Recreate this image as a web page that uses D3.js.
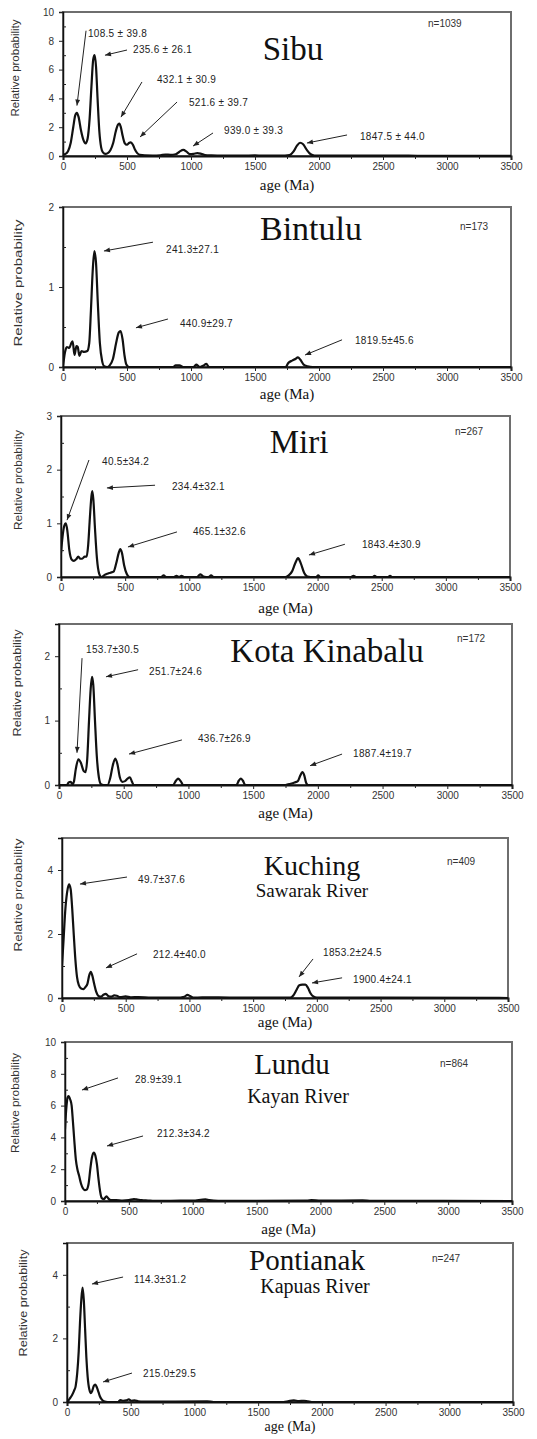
<!DOCTYPE html>
<html>
<head>
<meta charset="utf-8">
<script src="https://cdn.jsdelivr.net/npm/d3@7"></script>
<style>
body { margin: 0; background: #fff; }
svg text { font-family: "Liberation Sans", Arial, sans-serif; }
svg text.title, svg text.agelab { font-family: "Liberation Serif", "Times New Roman", serif; fill: #111; }
.tick text { fill: #333; font-size: 10px; }
.peak { font-size: 10px; fill: #222; letter-spacing: 0.3px; }
</style>
</head>
<body>
<div class="chart"></div>
<script>
var width = 537, height = 1439;

var ageTicks = d3.range(0, 3501, 500);
var ageMinor = d3.range(250, 3500, 500);

var names = ["Sibu", "Bintulu", "Miri", "Kota Kinabalu", "Kuching", "Lundu", "Pontianak"];
var rivers = [null, null, null, null, "Sawarak River", "Kayan River", "Kapuas River"];
var counts = ["n=1039", "n=173", "n=267", "n=172", "n=409", "n=864", "n=247"];
var yMax = [10, 2, 3, 2.5, 5, 10, 5];
var yStep = [2, 1, 1, 1, 2, 2, 2];

// probability curves, [age (Ma), relative probability]
var sibuCurve = [[0,0.1],[20,0.15],[40,0.35],[60,0.9],[80,2.0],[95,2.8],[108,3.0],[122,2.7],[140,1.8],[160,1.1],[177,0.88],[192,1.2],[208,2.6],[222,4.8],[236,6.7],[247,7.0],[258,6.2],[270,4.0],[284,1.7],[298,0.6],[312,0.25],[330,0.15],[350,0.2],[370,0.4],[392,0.9],[412,1.7],[428,2.15],[440,2.25],[452,2.0],[466,1.4],[482,0.9],[500,0.78],[515,0.9],[530,0.95],[545,0.8],[562,0.45],[580,0.2],[600,0.08],[640,0.04],[700,0.03],[760,0.05],[800,0.1],[840,0.08],[880,0.12],[910,0.3],[940,0.42],[965,0.3],[990,0.13],[1020,0.15],[1050,0.2],[1080,0.15],[1110,0.07],[1160,0.04],[1250,0.02],[1400,0.02],[1500,0.04],[1560,0.02],[1700,0.02],[1770,0.06],[1800,0.3],[1828,0.72],[1852,0.92],[1876,0.82],[1905,0.42],[1935,0.12],[1965,0.03],[2100,0.02],[2300,0.02],[2500,0.03],[2700,0.02],[3000,0.01],[3500,0.01]];
var bintuluCurve = [[0,0],[15,0.18],[30,0.25],[50,0.24],[65,0.3],[75,0.32],[90,0.15],[105,0.26],[115,0.25],[128,0.14],[145,0.2],[165,0.19],[190,0.2],[205,0.3],[218,0.7],[232,1.2],[245,1.45],[258,1.3],[272,0.8],[288,0.3],[305,0.08],[322,0.01],[345,0],[365,0.02],[390,0.1],[415,0.3],[435,0.43],[450,0.45],[465,0.35],[480,0.15],[495,0.03],[515,0],[860,0],[880,0.02],[910,0.02],[940,0],[1020,0],[1040,0.03],[1070,0],[1100,0.02],[1120,0.04],[1140,0],[1740,0],[1760,0.05],[1790,0.08],[1815,0.1],[1835,0.12],[1855,0.09],[1880,0.03],[1910,0.01],[1950,0],[3500,0]];
var miriCurve = [[0,0.45],[12,0.75],[25,0.95],[38,1.0],[50,0.85],[65,0.5],[82,0.33],[100,0.3],[118,0.33],[135,0.38],[150,0.34],[165,0.34],[185,0.38],[200,0.38],[212,0.6],[225,1.1],[237,1.5],[244,1.6],[252,1.45],[265,0.9],[280,0.35],[298,0.06],[317,0],[340,0.04],[360,0.06],[385,0.08],[410,0.1],[430,0.25],[450,0.45],[462,0.52],[475,0.45],[492,0.22],[512,0.06],[535,0],[780,0],[800,0.03],[820,0],[880,0],[900,0.02],[920,0],[940,0.02],[960,0],[1060,0],[1085,0.05],[1110,0.01],[1150,0],[1170,0.03],[1190,0],[1750,0],[1775,0.03],[1800,0.1],[1825,0.25],[1848,0.35],[1870,0.25],[1895,0.08],[1920,0.01],[1945,0],[1990,0],[2005,0.03],[2020,0],[2260,0],[2280,0.02],[2300,0],[2430,0],[2445,0.02],[2460,0],[2550,0],[2565,0.02],[2580,0],[3500,0]];
var kotaCurve = [[0,0],[60,0],[75,0.04],[90,0.05],[105,0.01],[115,0.05],[130,0.25],[150,0.4],[168,0.35],[190,0.22],[205,0.2],[218,0.4],[232,1.0],[245,1.5],[255,1.68],[265,1.55],[278,1.0],[292,0.45],[308,0.12],[325,0.01],[345,0],[375,0],[395,0.1],[415,0.3],[435,0.41],[452,0.32],[470,0.12],[490,0.05],[510,0.06],[530,0.1],[548,0.12],[562,0.06],[578,0],[880,0],[905,0.07],[920,0.1],[940,0.06],[960,0],[1370,0],[1390,0.07],[1405,0.1],[1420,0.07],[1440,0],[1750,0],[1790,0.02],[1820,0.04],[1845,0.06],[1865,0.15],[1880,0.2],[1895,0.15],[1910,0.03],[1925,0],[3500,0]];
var kuchingCurve = [[0,1.0],[12,1.8],[25,2.7],[40,3.3],[55,3.55],[68,3.4],[80,2.8],[92,2.0],[105,1.2],[118,0.65],[132,0.4],[150,0.3],[170,0.28],[185,0.35],[200,0.45],[213,0.7],[226,0.82],[238,0.7],[252,0.45],[268,0.2],[285,0.07],[305,0.04],[325,0.1],[345,0.13],[362,0.06],[385,0.04],[410,0.08],[430,0.07],[455,0.03],[500,0.05],[540,0.02],[600,0.03],[700,0.01],[900,0.01],[960,0.04],[985,0.1],[1005,0.06],[1030,0.01],[1100,0.02],[1230,0.02],[1400,0.01],[1600,0.01],[1790,0.01],[1815,0.08],[1840,0.25],[1862,0.4],[1885,0.42],[1910,0.42],[1930,0.32],[1950,0.15],[1972,0.05],[2000,0.01],[2500,0.01],[3500,0]];
var lunduCurve = [[0,4.5],[10,5.8],[20,6.5],[28,6.6],[40,6.4],[52,6.0],[62,5.0],[72,3.9],[85,2.6],[97,2.0],[110,1.6],[125,1.1],[140,0.8],[155,0.68],[170,0.72],[185,1.1],[198,2.0],[210,2.7],[225,3.05],[238,2.85],[250,2.3],[262,1.4],[275,0.6],[288,0.18],[305,0.12],[325,0.3],[340,0.15],[360,0.05],[400,0.06],[450,0.03],[500,0.05],[540,0.12],[560,0.1],[600,0.05],[650,0.03],[700,0.01],[900,0.02],[1000,0.03],[1100,0.1],[1130,0.05],[1200,0.01],[1500,0.01],[1900,0.03],[1930,0.05],[2000,0.02],[2330,0.04],[2400,0.01],[3500,0]];
var pontianakCurve = [[0,0],[20,0.1],[40,0.22],[55,0.35],[68,0.5],[80,0.9],[92,1.6],[102,2.5],[112,3.2],[122,3.6],[132,3.2],[142,2.3],[152,1.4],[162,0.8],[175,0.4],[188,0.28],[198,0.35],[210,0.5],[222,0.55],[235,0.45],[248,0.3],[258,0.18],[272,0.08],[290,0.02],[320,0],[400,0],[420,0.06],[440,0.04],[465,0.05],[485,0.08],[505,0.04],[530,0.05],[560,0.02],[600,0.01],[1100,0.02],[1150,0],[1700,0],[1740,0.03],[1780,0.05],[1820,0.03],[1860,0.04],[1890,0.02],[1920,0],[3500,0]];

// peak labels: text start, arrow tail and arrow head, all in [age, probability]
var sibuPeaks = [
  {label: "108.5 ± 39.8", text: [195, 8.26], from: [180, 8.7], to: [109, 3.5]},
  {label: "235.6 ± 26.1", text: [547, 7.15], from: [500, 7.36], to: [328, 7.0]},
  {label: "432.1 ± 30.9", text: [734, 5.07], from: [617, 5.14], to: [453, 2.7]},
  {label: "521.6 ± 39.7", text: [984, 3.47], from: [891, 3.75], to: [602, 1.32]},
  {label: "939.0 ± 39.3", text: [1258, 1.53], from: [1172, 1.6], to: [1016, 0.69]},
  {label: "1847.5 ± 44.0", text: [2320, 1.11], from: [2219, 1.46], to: [1906, 0.9]}
];
var bintuluPeaks = [
  {label: "241.3±27.1", text: [805, 1.43], from: [703, 1.56], to: [320, 1.45]},
  {label: "440.9±29.7", text: [914, 0.5], from: [820, 0.6], to: [570, 0.49]},
  {label: "1819.5±45.6", text: [2281, 0.29], from: [2180, 0.34], to: [1891, 0.15]}
];
var miriPeaks = [
  {label: "40.5±34.2", text: [320, 2.09], from: [218, 2.18], to: [47, 1.06]},
  {label: "234.4±32.1", text: [865, 1.62], from: [733, 1.71], to: [358, 1.66]},
  {label: "465.1±32.6", text: [1029, 0.78], from: [904, 0.84], to: [522, 0.56]},
  {label: "1843.4±30.9", text: [2346, 0.54], from: [2213, 0.61], to: [1933, 0.41]}
];
var kotaPeaks = [
  {label: "153.7±30.5", text: [209, 2.05], from: [178, 1.97], to: [139, 0.5]},
  {label: "251.7±24.6", text: [696, 1.71], from: [611, 1.79], to: [363, 1.68]},
  {label: "436.7±26.9", text: [1074, 0.67], from: [950, 0.7], to: [541, 0.48]},
  {label: "1887.4±19.7", text: [2272, 0.43], from: [2187, 0.48], to: [1940, 0.3]}
];
var kuchingPeaks = [
  {label: "49.7±37.6", text: [597, 3.6], from: [510, 3.78], to: [141, 3.56]},
  {label: "212.4±40.0", text: [714, 1.25], from: [589, 1.38], to: [345, 0.94]},
  {label: "1853.2±24.5", text: [2049, 1.31], from: [1970, 1.22], to: [1860, 0.66]},
  {label: "1900.4±24.1", text: [2284, 0.47], from: [2198, 0.63], to: [1962, 0.47]}
];
var lunduPeaks = [
  {label: "28.9±39.1", text: [548, 7.42], from: [415, 7.74], to: [133, 6.98]},
  {label: "212.3±34.2", text: [720, 4.03], from: [611, 4.09], to: [329, 3.46]}
];
var pontianakPeaks = [
  {label: "114.3±31.2", text: [526, 3.74], from: [440, 3.93], to: [196, 3.71]},
  {label: "215.0±29.5", text: [597, 0.79], from: [510, 0.91], to: [283, 0.63]}
];

var curves = [sibuCurve, bintuluCurve, miriCurve, kotaCurve, kuchingCurve, lunduCurve, pontianakCurve];
var peaks = [sibuPeaks, bintuluPeaks, miriPeaks, kotaPeaks, kuchingPeaks, lunduPeaks, pontianakPeaks];

// page layout of each panel
var layout = [
  {l: 63, r: 511, t: 12,   b: 156,  title: [293, 60, 33],   sub: null,            n: [428, 27],   ageY: 190,  ageS: 15, yLab: [15, 68, 97]},
  {l: 63, r: 511, t: 207,  b: 367,  title: [311, 240, 34],  sub: null,            n: [460, 230],  ageY: 399,  ageS: 15, yLab: [18, 283, 127]},
  {l: 61, r: 510, t: 416,  b: 577,  title: [299, 453, 33],  sub: null,            n: [455, 435],  ageY: 613,  ageS: 15, yLab: [18, 480, 100]},
  {l: 59, r: 512, t: 624,  b: 785,  title: [327, 662, 33],  sub: null,            n: [457, 642],  ageY: 818,  ageS: 15, yLab: [17, 683, 107]},
  {l: 62, r: 508, t: 838,  b: 998,  title: [312, 875, 28],  sub: [312, 897, 19],  n: [447, 865],  ageY: 1027, ageS: 15, yLab: [18, 895, 113]},
  {l: 65, r: 512, t: 1042, b: 1201, title: [292, 1074, 29], sub: [298, 1103, 20], n: [440, 1067], ageY: 1234, ageS: 15, yLab: [15, 1103, 100]},
  {l: 67, r: 513, t: 1243, b: 1402, title: [307, 1270, 29], sub: [315, 1293, 20], n: [432, 1262], ageY: 1431, ageS: 14, yLab: [23, 1303, 107]}
];

var svg = d3.select(".chart").append("svg")
  .attr("width", width).attr("height", height);

svg.append("defs").append("marker")
  .attr("id", "ah").attr("viewBox", "0 0 10 10")
  .attr("refX", 10).attr("refY", 5)
  .attr("markerUnits", "userSpaceOnUse")
  .attr("markerWidth", 7).attr("markerHeight", 6)
  .attr("orient", "auto")
  .append("path").attr("d", "M0,1L10,5L0,9Z").attr("fill", "#222");

layout.forEach(function(p, i) {
  var x = d3.scaleLinear().domain([0, 3500]).range([p.l, p.r]);
  var y = d3.scaleLinear().domain([0, yMax[i]]).range([p.b, p.t]);
  var g = svg.append("g");

  svg.select("defs").append("clipPath").attr("id", "clip" + i)
    .append("rect").attr("x", p.l).attr("y", p.t - 2)
    .attr("width", p.r - p.l).attr("height", p.b - p.t + 2);

  // frame
  g.append("rect").attr("x", p.l).attr("y", p.t)
    .attr("width", p.r - p.l).attr("height", p.b - p.t)
    .attr("fill", "none").attr("stroke", "#6e6e6e").attr("stroke-width", 2);

  // curve
  var line = d3.line().curve(d3.curveMonotoneX)
    .x(function(d) { return x(d[0]); })
    .y(function(d) { return y(d[1]); });
  g.append("path").datum(curves[i])
    .attr("clip-path", "url(#clip" + i + ")")
    .attr("d", line).attr("fill", "none")
    .attr("stroke", "#111").attr("stroke-width", 2.2)
    .attr("stroke-linejoin", "round");

  // axes
  var xa = g.append("g").attr("transform", "translate(0," + p.b + ")")
    .call(d3.axisBottom(x).tickValues(ageTicks).tickSize(4).tickPadding(3).tickFormat(d3.format("d")));
  g.append("g").attr("transform", "translate(0," + p.b + ")")
    .call(d3.axisBottom(x).tickValues(ageMinor).tickSize(3).tickFormat(""))
    .select(".domain").remove();
  var yt = d3.range(0, yMax[i] + 1e-9, yStep[i]);
  var ya = g.append("g").attr("transform", "translate(" + p.l + ",0)")
    .call(d3.axisLeft(y).tickValues(yt).tickSize(4).tickPadding(5).tickFormat(d3.format("d")));
  g.append("g").attr("transform", "translate(" + p.l + ",0)")
    .call(d3.axisRight(y).tickValues(d3.range(yStep[i] / 2, yMax[i], yStep[i])).tickSize(3).tickFormat(""))
    .select(".domain").remove();
  xa.select(".domain").attr("stroke", "#111").attr("stroke-width", 2);
  ya.select(".domain").attr("stroke", "#111").attr("stroke-width", 1.5);
  g.selectAll(".tick line").attr("stroke", "#222");

  // titles
  g.append("text").attr("class", "title")
    .attr("x", p.title[0]).attr("y", p.title[1])
    .attr("text-anchor", "middle").style("font-size", p.title[2] + "px")
    .text(names[i]);
  if (rivers[i]) {
    g.append("text").attr("class", "title")
      .attr("x", p.sub[0]).attr("y", p.sub[1])
      .attr("text-anchor", "middle").style("font-size", p.sub[2] + "px")
      .text(rivers[i]);
  }
  g.append("text").attr("x", p.n[0]).attr("y", p.n[1])
    .style("font-size", "10px").attr("fill", "#333").text(counts[i]);

  g.append("text").attr("class", "agelab")
    .attr("x", (p.l + p.r) / 2).attr("y", p.ageY)
    .attr("text-anchor", "middle").style("font-size", p.ageS + "px")
    .text("age (Ma)");

  g.append("text")
    .attr("transform", "translate(" + (p.yLab[0] + 4) + "," + p.yLab[1] + ")rotate(-90)")
    .attr("text-anchor", "middle").style("font-size", "10px").attr("fill", "#333")
    .attr("textLength", p.yLab[2]).attr("lengthAdjust", "spacingAndGlyphs")
    .text("Relative probability");

  // peak labels and arrows
  var pk = g.selectAll(".pk").data(peaks[i]).enter().append("g");
  pk.append("line")
    .attr("x1", function(d) { return x(d.from[0]); })
    .attr("y1", function(d) { return y(d.from[1]); })
    .attr("x2", function(d) { return x(d.to[0]); })
    .attr("y2", function(d) { return y(d.to[1]); })
    .attr("stroke", "#222").attr("stroke-width", 1)
    .attr("marker-end", "url(#ah)");
  pk.append("text").attr("class", "peak")
    .attr("x", function(d) { return x(d.text[0]); })
    .attr("y", function(d) { return y(d.text[1]); })
    .text(function(d) { return d.label; });
});
</script>
</body>
</html>
